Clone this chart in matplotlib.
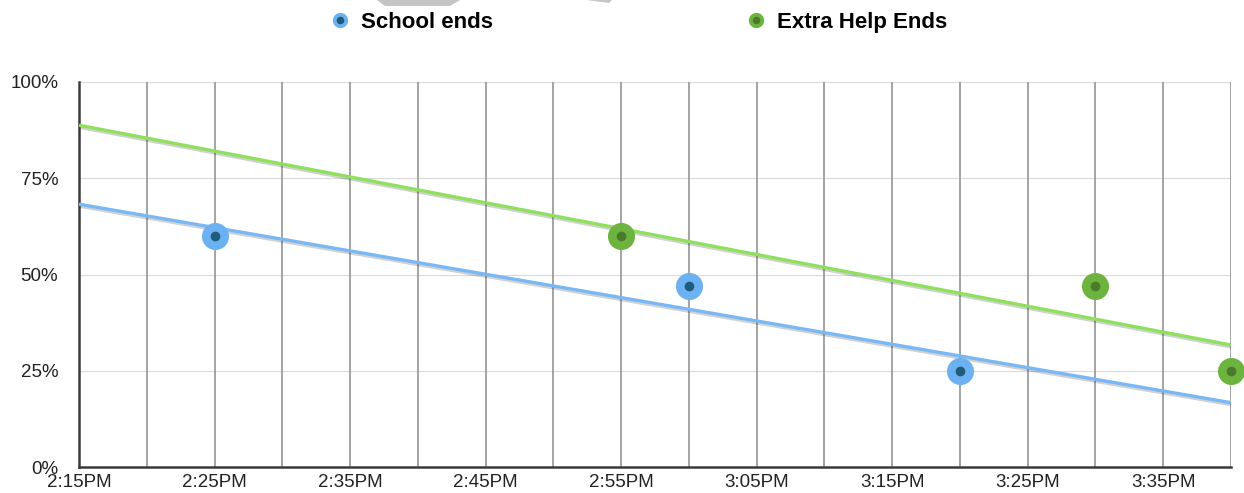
import numpy as np
import matplotlib
matplotlib.use("Agg")
import matplotlib.pyplot as plt
from matplotlib.lines import Line2D
from matplotlib.patches import Polygon
import matplotlib.patheffects as pe

# data
school_times = ["14:25", "15:00", "15:20"]
school_pct = [60, 47, 25]
help_times = ["14:55", "15:30", "15:40"]
help_pct = [60, 47, 25]

tick_times = ["14:15", "14:25", "14:35", "14:45", "14:55", "15:05", "15:15", "15:25", "15:35"]
tick_labels = ["2:15PM", "2:25PM", "2:35PM", "2:45PM", "2:55PM", "3:05PM", "3:15PM", "3:25PM", "3:35PM"]
y_ticks = [0, 25, 50, 75, 100]
y_labels = ["0%", "25%", "50%", "75%", "100%"]

START = "14:15"
END = "15:40"


def to_min(t):
    h, m = t.split(":")
    return int(h) * 60 + int(m)


t0 = to_min(START)
t1 = to_min(END)


def rel(times):
    return np.array([to_min(t) - t0 for t in times], dtype=float)


plt.rcParams['font.family'] = ['Liberation Sans', 'DejaVu Sans']

fig = plt.figure(figsize=(12.44, 4.93), dpi=100)
ax = fig.add_axes([79 / 1244, 26 / 493, 1152 / 1244, 385 / 493])

xmax = t1 - t0
ax.set_xlim(0, xmax)
ax.set_ylim(0, 100)

# grid
for x in np.arange(5, xmax + 0.1, 5):
    ax.axvline(x, color='#8c8c8c', lw=1.1, zorder=1)
for y in y_ticks[1:]:
    ax.axhline(y, color='#dadada', lw=0.8, zorder=0.5)

for s in ['top', 'right']:
    ax.spines[s].set_visible(False)
for s in ['left', 'bottom']:
    ax.spines[s].set_color('#3a3a3a')
    ax.spines[s].set_linewidth(1.8)
    ax.spines[s].set_zorder(3)

ax.set_xticks(rel(tick_times))
ax.set_xticklabels(tick_labels, fontsize=13.5, color='#222222')
ax.set_yticks(y_ticks)
ax.set_yticklabels(y_labels, fontsize=13.5, color='#222222')
ax.tick_params(length=0)
ax.tick_params(axis='y', pad=15)
ax.tick_params(axis='x', pad=5)

series = [
    (school_times, school_pct, '#6cb2f2', '#1f5b7a', '#7ab8f5'),
    (help_times, help_pct, '#6db33f', '#4b7b2a', '#8fe05c'),
]

xs_line = np.array([0, xmax], dtype=float)
shadow = [pe.SimpleLineShadow(offset=(0.5, -1.5), alpha=0.18, shadow_color='black'), pe.Normal()]
for times, pct, outer, inner, linec in series:
    x = rel(times)
    k, b = np.polyfit(x, pct, 1)
    ax.plot(xs_line, k * xs_line + b, color=linec, lw=2.4, zorder=4,
            path_effects=shadow, solid_capstyle='butt')
    ax.plot(x, pct, 'o', ms=19.5, color=outer, mec='none', zorder=5, clip_on=False)
    ax.plot(x, pct, 'o', ms=7, color=inner, mec='none', zorder=6, clip_on=False)

# legend
handles = []
for _, _, outer, inner, _ in series:
    h1 = Line2D([], [], marker='o', ls='none', ms=11, color=outer, mec='none')
    h2 = Line2D([], [], marker='o', ls='none', ms=5.5, color=inner, mec='none')
    handles.append((h1, h2))
fig.legend(handles, ["School ends", "Extra Help Ends"], ncol=2, loc='center',
           bbox_to_anchor=(0.513, 0.955), frameon=False,
           prop={'weight': 'bold', 'size': 16}, handlelength=1.0,
           handletextpad=0.45, columnspacing=11.3)

# grey fragments at top edge
fig.patches.append(Polygon([(377 / 1244, 1), (460 / 1244, 1), (450 / 1244, 1 - 6 / 493),
                            (385 / 1244, 1 - 6 / 493)], closed=True,
                           transform=fig.transFigure, color='#c4c4c4', lw=0))
fig.patches.append(Polygon([(587 / 1244, 1), (612 / 1244, 1), (609 / 1244, 1 - 3 / 493)],
                           closed=True, transform=fig.transFigure, color='#c4c4c4', lw=0))

fig.savefig("out.png", dpi=100, facecolor='white')
